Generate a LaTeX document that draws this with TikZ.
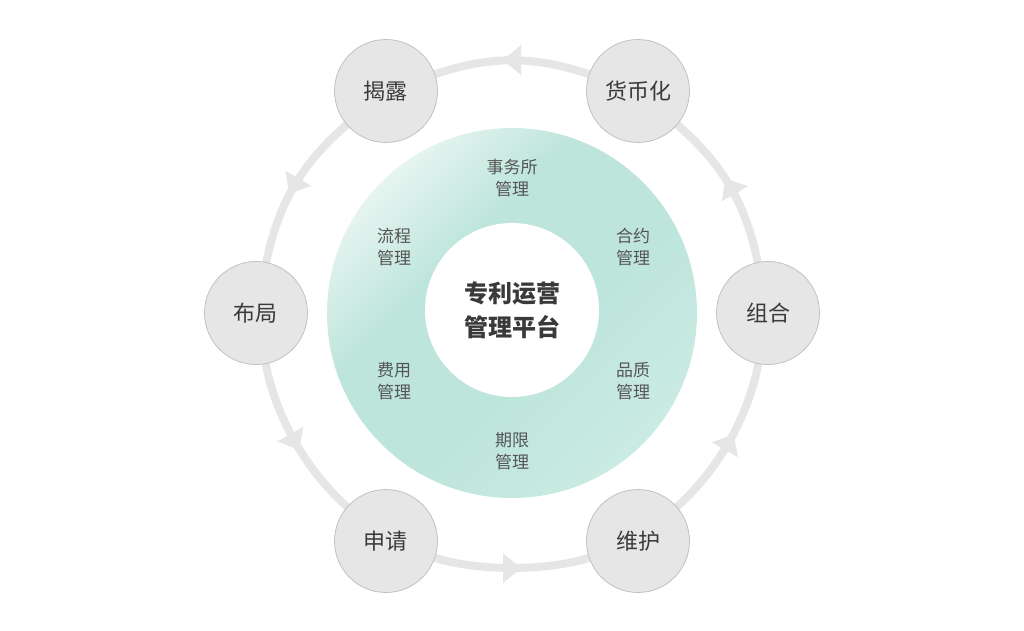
\documentclass[tikz,border=0pt]{standalone}
\usepackage{fontspec}
\newfontfamily\cjk{Noto Sans CJK SC}
\usetikzlibrary{decorations.markings}
\pgfdeclarelayer{paper}
\pgfdeclarelayer{ring}
\pgfsetlayers{paper,ring,main}
\definecolor{ringgray}{HTML}{E6E6E6}
\definecolor{nodegray}{HTML}{E6E6E6}
\definecolor{nodeborder}{HTML}{C2C2C2}
\definecolor{txtdark}{HTML}{3A3A3A}
\definecolor{txtmid}{HTML}{555555}
\definecolor{gA}{HTML}{EDF7F4}
\definecolor{gB}{HTML}{BDE5DB}
\definecolor{gC}{HTML}{CAEBE3}
\pgfdeclarehorizontalshading{ringshade}{100bp}{color(0bp)=(gA); color(23bp)=(gA); color(39bp)=(gB); color(56bp)=(gB); color(75bp)=(gC); color(100bp)=(gC)}
\begin{document}
\begin{tikzpicture}[x=1pt,y=1pt,
  stage/.style={circle, draw=nodeborder, line width=0.8pt, fill=nodegray, minimum size=103pt, inner sep=0pt, font=\cjk\fontsize{22}{24}\selectfont, text=txtdark},
  sub/.style={align=center, inner sep=0pt, font=\cjk\fontsize{17}{22.5}\selectfont, text=txtmid},
  core/.style={circle, fill=white, minimum size=174pt, inner sep=0pt, align=center, font=\cjk\bfseries\fontsize{24}{34}\selectfont, text=txtdark},
  cyc/.style={draw=ringgray, line width=8pt, bend right=19, looseness=#1, shorten <=-3pt, shorten >=-3pt,
    postaction={decorate},
    decoration={markings, mark=at position 0.5 with {\fill[ringgray] (9pt,0pt) -- (-9pt,15pt) -- (-9pt,-15pt) -- cycle;}}},
  cyc/.default=0.96
]
\useasboundingbox (-512,-317) rectangle (512,313);
\begin{pgfonlayer}{paper}
\fill[white] (-512,-317) rectangle (512,313);
\end{pgfonlayer}

% central disk
\shade[shading=ringshade, shading angle=-45] (0,0) circle (185);
\node[core] (core) at (0,3) {专利运营\\管理平台};

% inner labels
\node[sub] (swsgl) at (0,135) {事务所\\管理};
\node[sub] (hygl) at (121,66) {合约\\管理};
\node[sub] (pzgl) at (121,-68) {品质\\管理};
\node[sub] (qxgl) at (0,-138) {期限\\管理};
\node[sub] (fygl) at (-118,-68) {费用\\管理};
\node[sub] (lcgl) at (-118,66) {流程\\管理};

% outer stages
\node[stage] (zh) at (256,0) {组合};
\node[stage] (hbh) at (126,222) {货币化};
\node[stage] (jl) at (-126,222) {揭露};
\node[stage] (bj) at (-256,0) {布局};
\node[stage] (sq) at (-126,-228) {申请};
\node[stage] (wh) at (126,-228) {维护};

\begin{pgfonlayer}{ring}
\draw[cyc] (hbh) to (jl);
\draw[cyc] (jl) to (bj);
\draw[cyc=0.85] (bj) to (sq);
\draw[cyc=0.7] (sq) to (wh);
\draw[cyc=0.85] (wh) to (zh);
\draw[cyc] (zh) to (hbh);
\end{pgfonlayer}
\end{tikzpicture}
\end{document}
